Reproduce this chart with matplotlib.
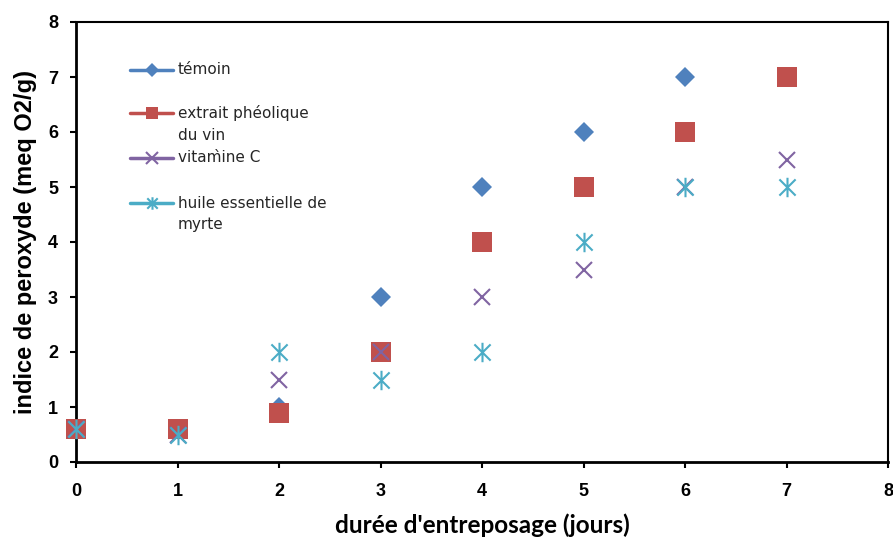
import matplotlib
matplotlib.use("Agg")
import matplotlib.pyplot as plt
from matplotlib.lines import Line2D
from matplotlib.path import Path

# durée d'entreposage (jours)
jours = [0, 1, 2, 3, 4, 5, 6, 7]

# indice de peroxyde (meq O2/g)
temoin = [0.6, 0.6, 1.0, 3.0, 5.0, 6.0, 7.0, None]
extrait = [0.6, 0.6, 0.9, 2.0, 4.0, 5.0, 6.0, 7.0]
vitamine = [0.6, 0.5, 1.5, 2.0, 3.0, 3.5, 5.0, 5.5]
huile = [0.6, 0.5, 2.0, 1.5, 2.0, 4.0, 5.0, 5.0]

labels = ["témoin", "extrait phéolique\ndu vin", "vitam\u0300ine C",
          "huile essentielle de\nmyrte"]
x_ticks = [0, 1, 2, 3, 4, 5, 6, 7, 8]
y_ticks = [0, 1, 2, 3, 4, 5, 6, 7, 8]

# asterisk like Excel: X plus a vertical bar
star = Path([(-1, -1), (1, 1), (-1, 1), (1, -1), (0, -1.2), (0, 1.2)],
            [Path.MOVETO, Path.LINETO, Path.MOVETO, Path.LINETO,
             Path.MOVETO, Path.LINETO])

styles = [
    dict(marker="D", color="#4F81BD", ms=10.5, mew=0, lms=7),
    dict(marker="s", color="#C0504D", ms=14, mew=0, lms=9),
    dict(marker="x", color="#8064A2", ms=12, mew=1.5, lms=8),
    dict(marker=star, color="#4BACC6", ms=14, mew=1.5, lms=9),
]

W, H = 893, 537
fig = plt.figure(figsize=(W / 100, H / 100), dpi=100)
ax = fig.add_axes([76 / W, 1 - 462 / H, 812 / W, 440 / H])

series = [temoin, extrait, vitamine, huile]
for vals, st in zip(series, styles):
    xs = [x for x, v in zip(jours, vals) if v is not None]
    ys = [v for v in vals if v is not None]
    ax.plot(xs, ys, linestyle="none", marker=st["marker"], color=st["color"],
            markersize=st["ms"], markeredgewidth=st["mew"],
            markeredgecolor=st["color"], clip_on=False, zorder=3)

ax.set_xlim(0, 8)
ax.set_ylim(0, 8)
ax.set_xticks(x_ticks)
ax.set_yticks(y_ticks)
for lab in ax.get_xticklabels() + ax.get_yticklabels():
    lab.set_fontfamily("Liberation Sans")
    lab.set_fontweight("bold")
    lab.set_fontsize(13)
ax.tick_params(direction="out", length=4, width=1.5)
ax.tick_params(axis="x", pad=11)
ax.tick_params(axis="y", pad=9)
for sp in ax.spines.values():
    sp.set_linewidth(1.5)
ax.spines["left"].set_linewidth(2)
ax.spines["bottom"].set_linewidth(2)

ax.set_xlabel("durée d'entreposage (jours)", fontfamily="Lato",
              fontweight="bold", fontsize=17.5, labelpad=10)
ax.set_ylabel("indice de peroxyde (meq O2/g)", fontfamily="Liberation Sans",
              fontweight="bold", fontsize=17, labelpad=8)

# legend, drawn like the Excel one: handle on the first text line
rows = [70, 113, 158, 203]
pitch = 22
for lab, st, y in zip(labels, styles, rows):
    fy = 1 - y / H
    fig.add_artist(Line2D([130 / W, 173 / W], [fy, fy], color=st["color"],
                          lw=2.5, solid_capstyle="round"))
    fig.add_artist(Line2D([151.5 / W], [fy], color=st["color"],
                          marker=st["marker"], markersize=st["lms"],
                          markeredgewidth=st["mew"],
                          markeredgecolor=st["color"]))
    for i, line in enumerate(lab.split("\n")):
        fig.text(178 / W, 1 - (y + i * pitch) / H, line,
                 fontfamily="DejaVu Sans", fontsize=11, va="center",
                 ha="left", color="#262626")

fig.savefig("out.png", dpi=100)
